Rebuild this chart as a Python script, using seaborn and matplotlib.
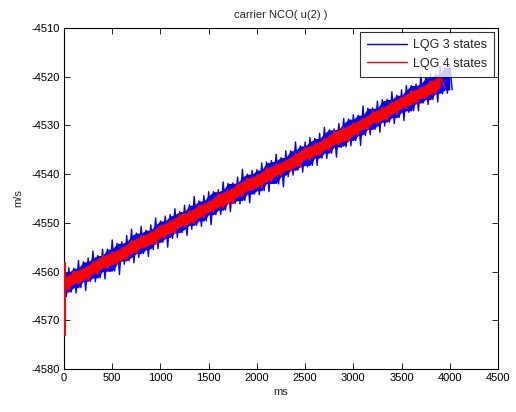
import numpy as np
import matplotlib
matplotlib.use("Agg")
import matplotlib.pyplot as plt
import seaborn as sns
from matplotlib.lines import Line2D

# ---- data (m/s vs ms) ----
blue_t = list(range(0, 4001, 50))
blue_upper = [-4560.2, -4559.2, -4559.3, -4557.7, -4558.0, -4557.2, -4555.8, -4556.7, -4555.4, -4555.4,
              -4553.5, -4554.2, -4553.9, -4552.6, -4551.3, -4552.1, -4550.7, -4551.5, -4550.4, -4549.0,
              -4549.6, -4548.6, -4548.3, -4547.1, -4547.7, -4546.4, -4546.3, -4544.6, -4545.5, -4544.4,
              -4543.6, -4543.6, -4543.2, -4541.6, -4541.9, -4541.8, -4540.6, -4539.0, -4540.0, -4539.2,
              -4539.1, -4537.7, -4537.5, -4537.2, -4535.9, -4536.6, -4535.2, -4535.2, -4533.4, -4534.2,
              -4533.4, -4532.5, -4532.7, -4531.6, -4530.4, -4530.9, -4530.7, -4529.6, -4528.6, -4528.7,
              -4527.8, -4527.9, -4526.0, -4526.5, -4526.4, -4525.0, -4524.7, -4524.6, -4523.1, -4523.8,
              -4522.7, -4521.8, -4521.8, -4521.5, -4519.5, -4520.2, -4519.3, -4519.5, -4517.9, -4518.1,
              -4517.7]
blue_lower = [-4565.1, -4564.2, -4564.4, -4563.3, -4563.9, -4562.0, -4562.1, -4561.3, -4561.5, -4560.0,
              -4559.9, -4560.6, -4558.5, -4557.8, -4558.2, -4557.1, -4556.3, -4556.9, -4555.5, -4555.3,
              -4554.0, -4555.0, -4553.2, -4553.0, -4552.0, -4552.6, -4551.3, -4550.5, -4550.7, -4549.6,
              -4550.4, -4548.3, -4548.3, -4547.4, -4547.7, -4546.0, -4546.1, -4545.4, -4545.9, -4544.1,
              -4544.2, -4543.4, -4543.6, -4541.9, -4542.0, -4542.6, -4540.5, -4540.2, -4539.2, -4539.6,
              -4538.5, -4538.2, -4538.2, -4536.7, -4536.8, -4535.7, -4536.5, -4534.5, -4534.4, -4534.2,
              -4533.1, -4534.1, -4532.1, -4531.9, -4530.8, -4531.4, -4530.1, -4529.3, -4529.6, -4528.4,
              -4529.0, -4527.3, -4527.0, -4527.0, -4525.4, -4525.7, -4524.7, -4525.2, -4523.5, -4523.4,
              -4522.7]

red_t = list(range(0, 3901, 100))
red_upper = [-4561.3, -4560.0, -4559.3, -4558.0, -4556.8, -4556.0, -4555.1, -4553.7, -4552.7, -4551.9,
             -4550.5, -4549.6, -4548.3, -4547.6, -4546.4, -4545.6, -4544.1, -4543.3, -4542.1, -4540.9,
             -4540.2, -4538.8, -4538.0, -4537.1, -4535.8, -4534.6, -4533.8, -4532.7, -4531.3, -4530.5,
             -4529.5, -4528.6, -4527.2, -4526.4, -4525.2, -4524.2, -4522.9, -4522.2, -4520.9, -4520.0]
red_lower = [-4563.8, -4562.5, -4561.8, -4560.5, -4559.3, -4558.5, -4557.6, -4556.3, -4555.1, -4554.4,
             -4553.1, -4552.1, -4550.8, -4550.1, -4548.9, -4547.7, -4546.8, -4546.0, -4544.6, -4543.4,
             -4542.7, -4541.5, -4540.3, -4539.3, -4538.5, -4537.0, -4536.2, -4535.1, -4533.9, -4533.3,
             -4532.0, -4530.8, -4529.6, -4528.9, -4527.7, -4526.5, -4525.6, -4524.5, -4523.6, -4522.2]

# start-up transients at t ~ 0
blue_start_t = [2, 2]
blue_start = [-4566.0, -4553.3]
red_start_t = [6, 6]
red_start = [-4573.0, -4558.2]

labels = ["LQG 3 states", "LQG 4 states"]
title = "carrier NCO( u(2) )"
xlabel, ylabel = "ms", "m/s"
xticks = [0, 500, 1000, 1500, 2000, 2500, 3000, 3500, 4000, 4500]
yticks = [-4580, -4570, -4560, -4550, -4540, -4530, -4520, -4510]

# ---- style ----
sns.set_theme(style="white")
plt.rcParams["font.family"] = ["Liberation Sans", "DejaVu Sans"]
plt.rcParams["font.size"] = 8

fig = plt.figure(figsize=(5.16, 4.12), dpi=100)
ax = fig.add_axes([64 / 516, 43 / 412, 434 / 516, 341 / 412])

BLUE = "#0000ff"
RED = "#ff0000"

# blue noisy trace: dense core + zigzag spikes between the envelope readings
bt = np.array(blue_t, dtype=float)
bu = np.array(blue_upper); bl = np.array(blue_lower)
core_u = np.minimum.reduce([np.r_[bu[0], bu[:-1]], bu, np.r_[bu[1:], bu[-1]]])
core_l = np.maximum.reduce([np.r_[bl[0], bl[:-1]], bl, np.r_[bl[1:], bl[-1]]])
ax.fill_between(bt, core_u, core_l, color=BLUE, lw=0, zorder=1.5)
bx = np.empty(2 * len(bt)); by = np.empty(2 * len(bt))
bx[0::2] = bt; bx[1::2] = bt + 25
by[0::2] = bu; by[1::2] = bl
sns.lineplot(x=bx, y=by, sort=False, estimator=None, color=BLUE, lw=1.0, ax=ax, zorder=2)
sns.lineplot(x=blue_start_t, y=blue_start, sort=False, estimator=None, color=BLUE, lw=1.5, ax=ax, zorder=2)

# red trace
rt = np.array(red_t, dtype=float)
rx = np.empty(2 * len(rt)); ry = np.empty(2 * len(rt))
rx[0::2] = rt; rx[1::2] = rt + 50
ry[0::2] = red_upper; ry[1::2] = red_lower
ax.fill_between(rt, red_upper, red_lower, color=RED, lw=0, zorder=3)
sns.lineplot(x=rx, y=ry, sort=False, estimator=None, color=RED, lw=1.2, ax=ax, zorder=3)
sns.lineplot(x=red_start_t, y=red_start, sort=False, estimator=None, color=RED, lw=1.5, ax=ax, zorder=3)

ax.set_xlim(0, 4500)
ax.set_ylim(-4580, -4510)
ax.set_xticks(xticks)
ax.set_yticks(yticks)
ax.set_xticklabels([str(v) for v in xticks])
ax.set_yticklabels([str(v) for v in yticks])
ax.tick_params(direction="in", length=4, width=0.6, top=True, right=True,
               bottom=True, left=True, labelsize=8, colors="black", pad=3)
for s in ax.spines.values():
    s.set_color("black")
    s.set_linewidth(0.8)

ax.set_title(title, fontsize=8, pad=7)
ax.set_xlabel(xlabel, fontsize=8, labelpad=3)
ax.set_ylabel(ylabel, fontsize=8, labelpad=6)

handles = [Line2D([0], [0], color=BLUE, lw=1), Line2D([0], [0], color=RED, lw=1)]
leg = ax.legend(handles, labels, loc="upper right", fontsize=9, frameon=True,
                fancybox=False, edgecolor="black", handlelength=3.2,
                borderaxespad=0.3, borderpad=0.6, labelspacing=0.5, handletextpad=0.45)
leg.get_frame().set_linewidth(0.8)
leg.set_zorder(10)

fig.savefig("out.png", dpi=100, facecolor="white")
